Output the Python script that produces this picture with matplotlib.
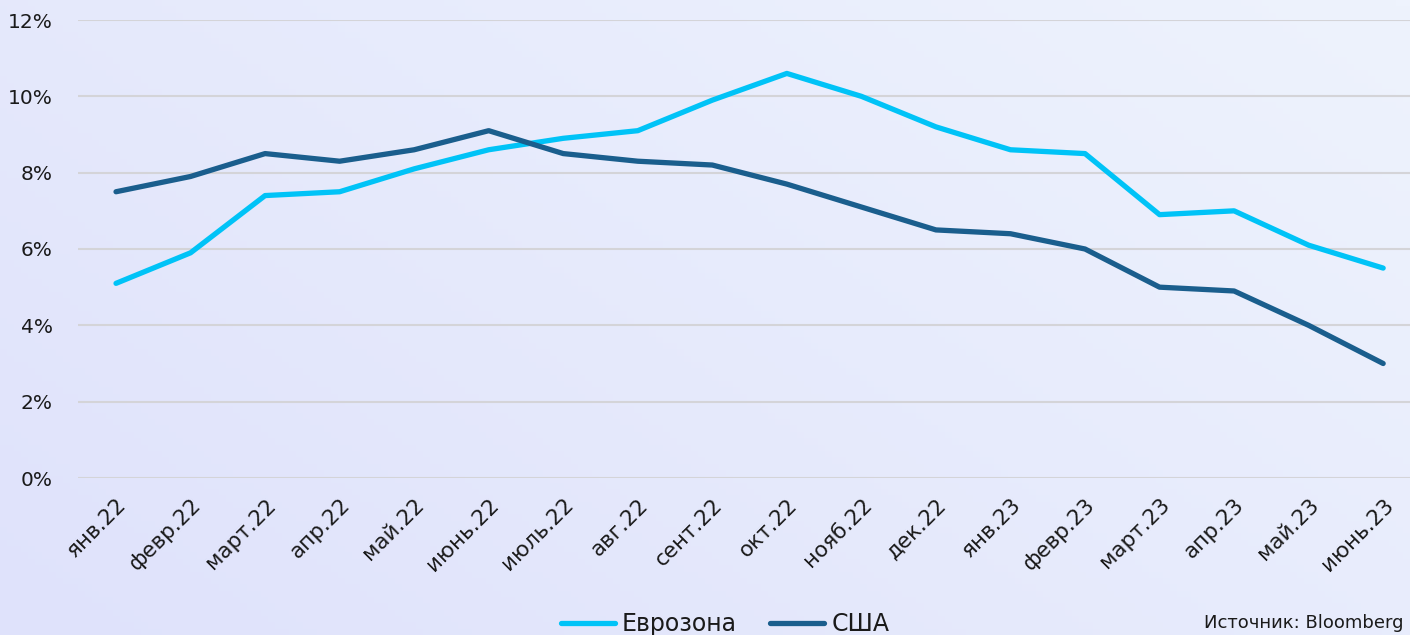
import matplotlib
matplotlib.use("Agg")
from matplotlib import pyplot as plt
from matplotlib.colors import LinearSegmentedColormap
import numpy as np

months = ["янв.22", "февр.22", "март.22", "апр.22", "май.22", "июнь.22", "июль.22",
          "авг.22", "сент.22", "окт.22", "нояб.22", "дек.22", "янв.23", "февр.23",
          "март.23", "апр.23", "май.23", "июнь.23"]
eurozone = [5.1, 5.9, 7.4, 7.5, 8.1, 8.6, 8.9, 9.1, 9.9, 10.6, 10.0, 9.2, 8.6, 8.5,
            6.9, 7.0, 6.1, 5.5]
usa = [7.5, 7.9, 8.5, 8.3, 8.6, 9.1, 8.5, 8.3, 8.2, 7.7, 7.1, 6.5, 6.4, 6.0,
       5.0, 4.9, 4.0, 3.0]

plt.rcParams['font.family'] = ['DejaVu Sans']

fig = plt.figure(figsize=(14.1, 6.35), dpi=100)

# background gradient (lavender bottom-left to light blue top-right)
bg = fig.add_axes([0, 0, 1, 1], zorder=-10)
gx, gy = np.meshgrid(np.linspace(0, 1, 200), np.linspace(0, 1, 100))
grad = 0.6 * gx + 0.4 * gy
cmap = LinearSegmentedColormap.from_list("bg", ["#dfe2fb", "#eef3fd"])
bg.imshow(grad, cmap=cmap, aspect='auto', origin='lower', extent=[0, 1, 0, 1])
bg.axis('off')

ax = fig.add_axes([78 / 1410, 1 - 478 / 635, 1332 / 1410, 458 / 635])
ax.patch.set_alpha(0)
x = np.arange(len(months))
ax.plot(x, eurozone, color='#00c3f7', lw=3.8, label='Еврозона', solid_capstyle='round')
ax.plot(x, usa, color='#1a5e8d', lw=3.8, label='США', solid_capstyle='round')

ax.set_ylim(0, 12)
ax.set_yticks(np.arange(0, 13, 2))
ax.set_yticklabels([f"{v}%" for v in range(0, 13, 2)])
ax.set_xlim(-0.51, 17.36)
ax.set_xticks(x)
ax.set_xticklabels(months, rotation=45, ha='right', rotation_mode='anchor')
ax.tick_params(axis='both', length=0, colors='#1a1a1a')
ax.tick_params(axis='x', pad=12, labelsize=15.5)
ax.tick_params(axis='y', pad=18, labelsize=14.5)
ax.grid(axis='y', color='#d4d4d8', lw=1.5)
ax.set_axisbelow(True)
for s in ax.spines.values():
    s.set_visible(False)

fig.legend(loc='center', bbox_to_anchor=(725 / 1410, 1 - 624 / 635), ncol=2,
           frameon=False, fontsize=17, handlelength=2.3, handletextpad=0.3,
           columnspacing=1.4, labelcolor='#1a1a1a')
# source note in the bottom-right corner
fig.text(1404 / 1410, 3 / 635, "Источник: Bloomberg", ha='right', va='bottom',
         fontsize=13, color='#1a1a1a')

fig.savefig("out.png", dpi=100)
